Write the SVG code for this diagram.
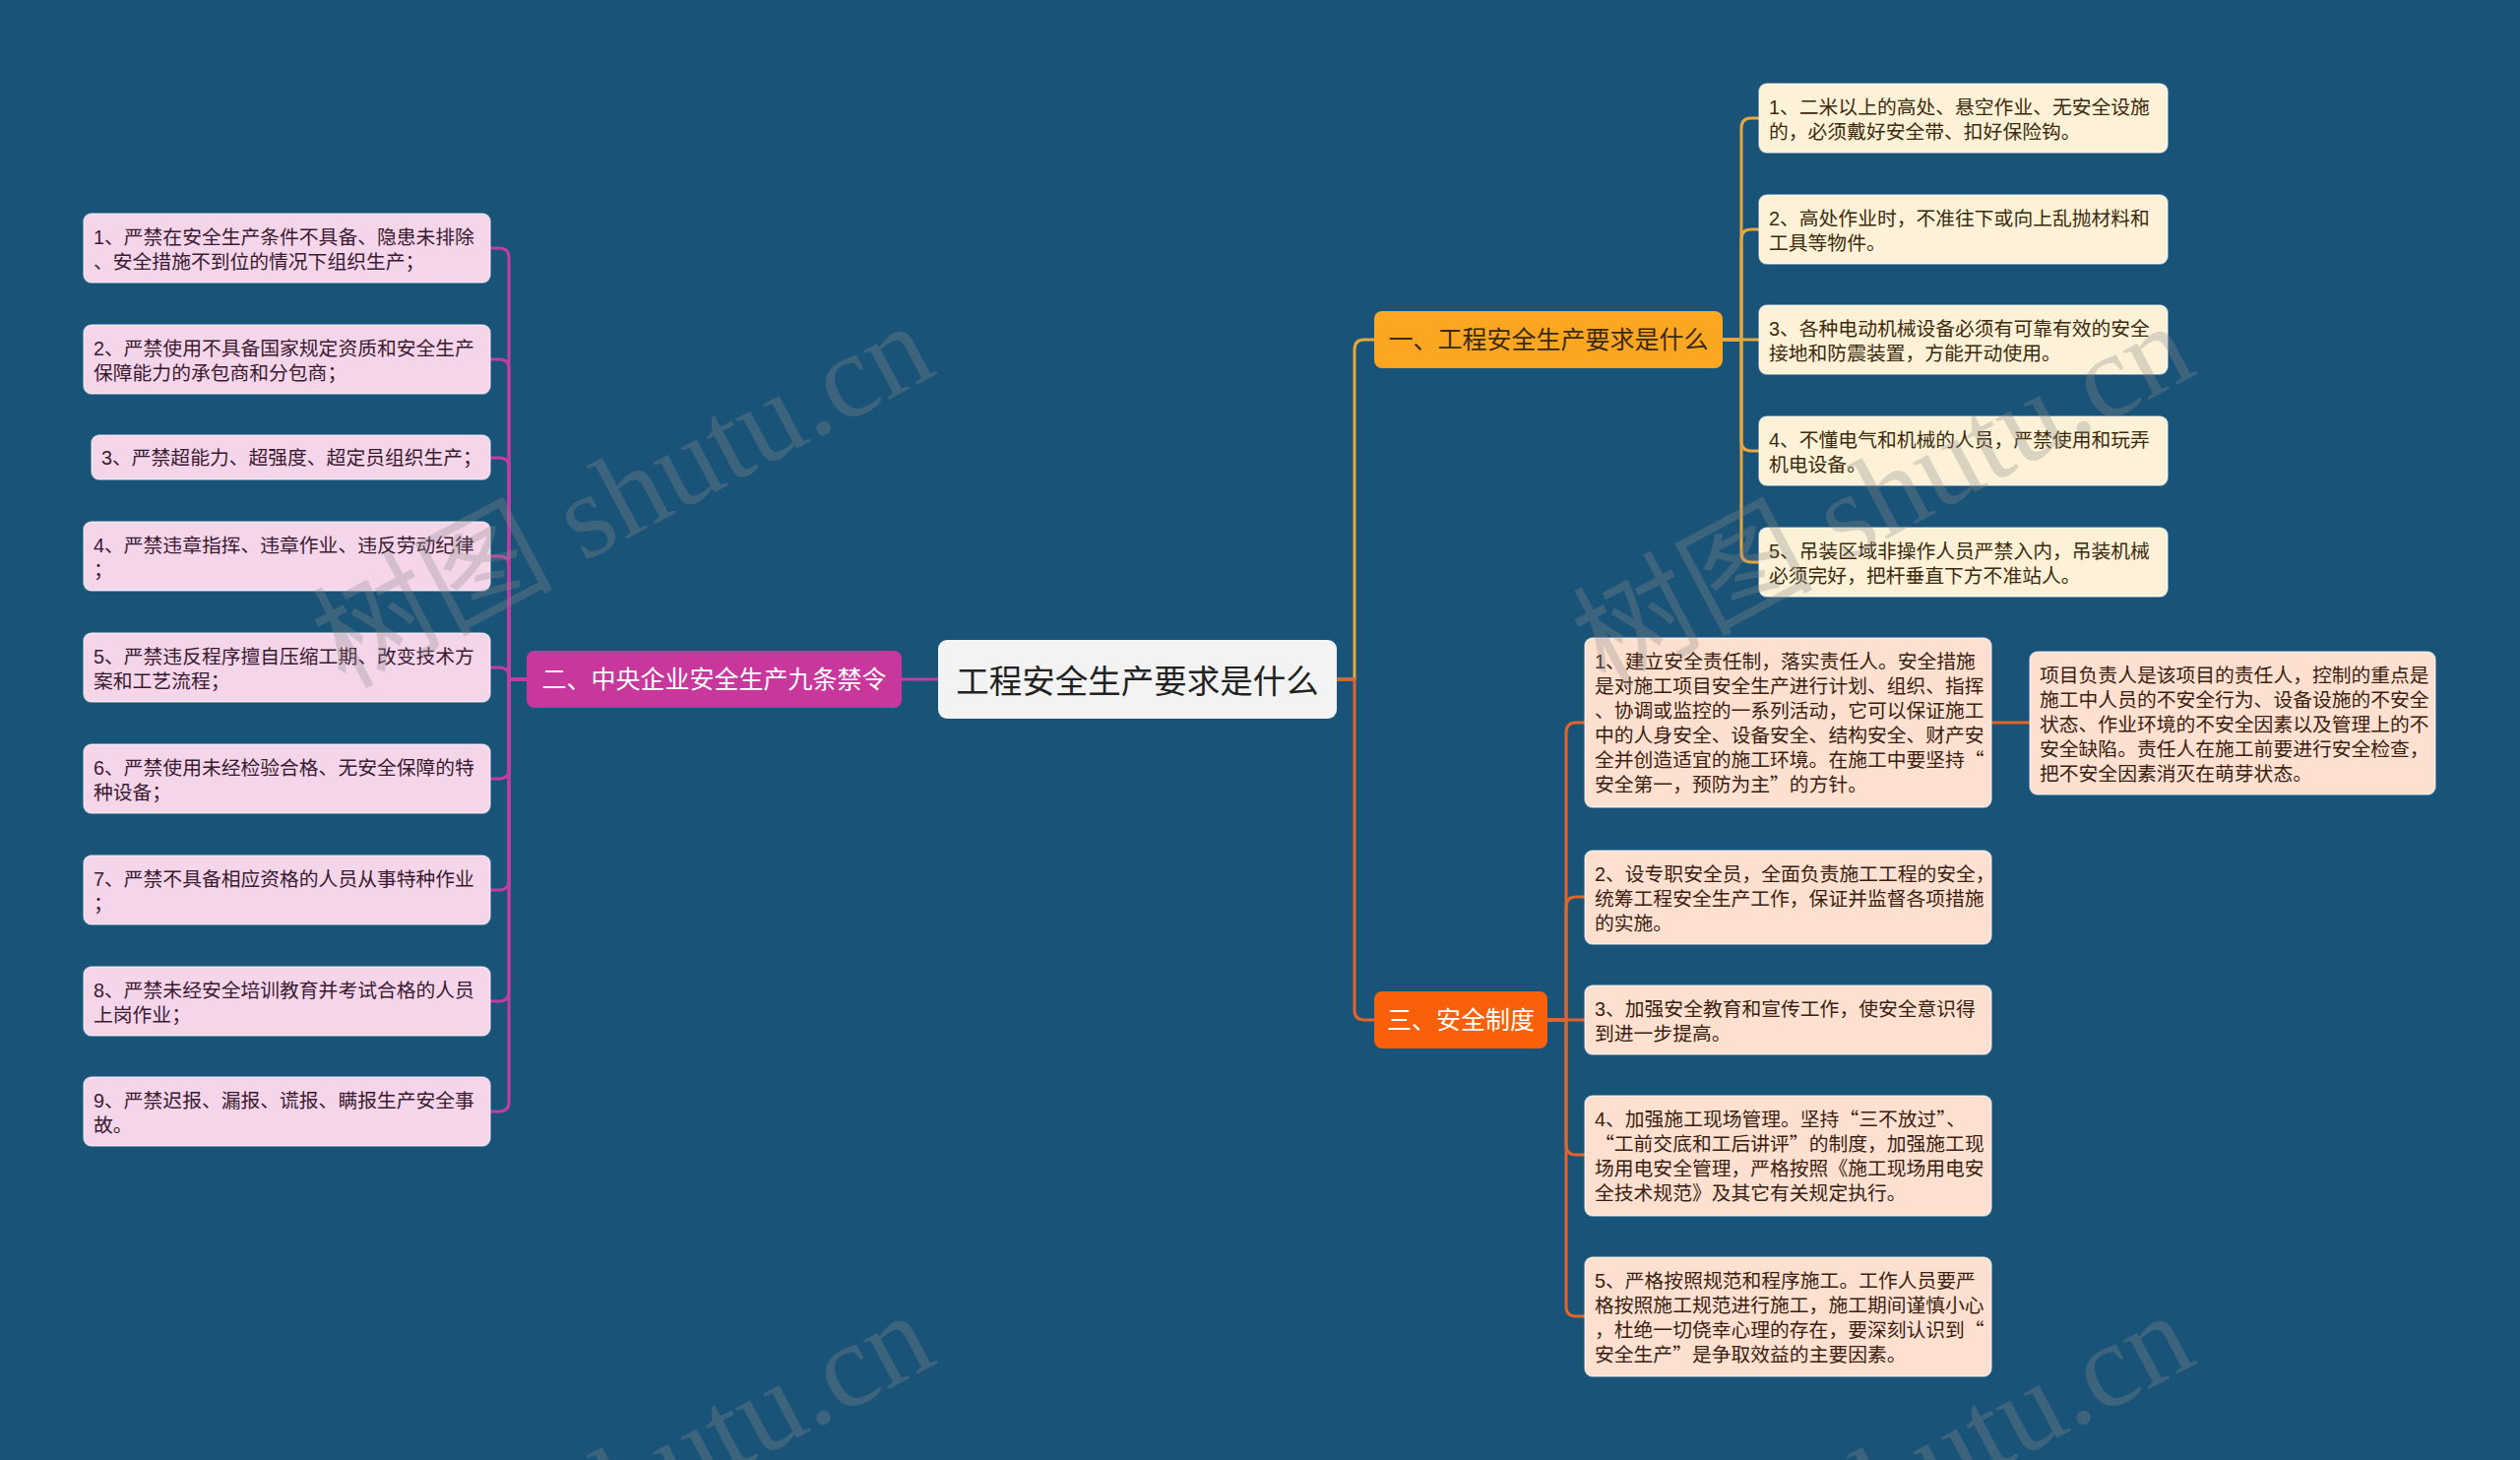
<svg xmlns="http://www.w3.org/2000/svg" width="2560" height="1483" viewBox="0 0 2560 1483">
<style>
text{font-family:"Liberation Sans","Noto Sans CJK SC",sans-serif;}
.q{font-family:"Noto Sans CJK SC",sans-serif;}
.lf{font-size:19.8px;}
.pk rect{fill:#f5d5ea;stroke:#ffffff;stroke-opacity:.55;stroke-width:1.5;}
.pk text{fill:#3a1a30;}
.yl rect{fill:#fdf1d7;stroke:#ffffff;stroke-opacity:.55;stroke-width:1.5;}
.yl text{fill:#3c2a0c;}
.sl rect{fill:#fde0d0;stroke:#ffffff;stroke-opacity:.55;stroke-width:1.5;}
.sl text{fill:#3b1e10;}
.br{font-size:25px;}
.cn path{fill:none;stroke-width:3;}
.cp{stroke:#c23ca2;}
.cy{stroke:#e8a73a;}
.co{stroke:#e2642a;}
.wm{font-family:"Liberation Serif","Noto Sans CJK SC",serif;font-size:122px;fill:#8a8a8a;fill-opacity:.3;}
</style>
<rect x="0" y="0" width="2560" height="1483" fill="#1a5378"/>
<g id="connectors" class="cn">
<path class="cp" d="M953,690 H916"/>
<path class="cy" d="M1358,690 H1376 V355 Q1376,345 1386,345 H1396"/>
<path class="co" d="M1358,690 H1376 V1026 Q1376,1036 1386,1036 H1396"/>
<path class="cp" d="M535,690 H517 V262 Q517,252 507,252 H498"/>
<path class="cp" d="M535,690 H517 V375 Q517,365 507,365 H498"/>
<path class="cp" d="M535,690 H517 V475 Q517,465 507,465 H498"/>
<path class="cp" d="M535,690 H517 V575 Q517,565 507,565 H498"/>
<path class="cp" d="M535,690 H517 V688 Q517,678 507,678 H498"/>
<path class="cp" d="M535,690 H517 V781 Q517,791 507,791 H498"/>
<path class="cp" d="M535,690 H517 V894 Q517,904 507,904 H498"/>
<path class="cp" d="M535,690 H517 V1007 Q517,1017 507,1017 H498"/>
<path class="cp" d="M535,690 H517 V1119 Q517,1129 507,1129 H498"/>
<path class="cy" d="M1750,345 H1769 V130 Q1769,120 1779,120 H1787"/>
<path class="cy" d="M1750,345 H1769 V243 Q1769,233 1779,233 H1787"/>
<path class="cy" d="M1750,345 H1787"/>
<path class="cy" d="M1750,345 H1769 V448 Q1769,458 1779,458 H1787"/>
<path class="cy" d="M1750,345 H1769 V561 Q1769,571 1779,571 H1787"/>
<path class="co" d="M1572,1036 H1591 V744 Q1591,734 1601,734 H1610"/>
<path class="co" d="M1572,1036 H1591 V921 Q1591,911 1601,911 H1610"/>
<path class="co" d="M1572,1036 H1610"/>
<path class="co" d="M1572,1036 H1591 V1163 Q1591,1173 1601,1173 H1610"/>
<path class="co" d="M1572,1036 H1591 V1327 Q1591,1337 1601,1337 H1610"/>
<path class="co" d="M2023,734 H2062"/>
</g>
<g id="root">
<rect x="953" y="650" width="405" height="80" rx="9" fill="#f3f3f3"/>
<text x="1155.5" y="704" text-anchor="middle" font-size="33.5" fill="#222222">工程安全生产要求是什么</text>
</g>
<g id="branch-2">
<rect x="535" y="661" width="381" height="58" rx="8" fill="#c8379b"/>
<text x="725.5" y="699" text-anchor="middle" class="br" fill="#ffffff">二、中央企业安全生产九条禁令</text>
</g>
<g id="branch-1">
<rect x="1396" y="316" width="354" height="58" rx="8" fill="#fca621"/>
<text x="1573" y="354" text-anchor="middle" class="br" fill="#3a2a0e">一、工程安全生产要求是什么</text>
</g>
<g id="branch-3">
<rect x="1396" y="1007" width="176" height="58" rx="8" fill="#fa5f0a"/>
<text x="1484" y="1045" text-anchor="middle" class="br" fill="#ffffff">三、安全制度</text>
</g>
<g id="p1" class="pk"><rect x="85" y="217" width="413" height="70" rx="8"/><text class="lf"><tspan x="95" y="248">1、严禁在安全生产条件不具备、隐患未排除</tspan><tspan x="95" y="273">、安全措施不到位的情况下组织生产；</tspan></text></g>
<g id="p2" class="pk"><rect x="85" y="330" width="413" height="70" rx="8"/><text class="lf"><tspan x="95" y="361">2、严禁使用不具备国家规定资质和安全生产</tspan><tspan x="95" y="386">保障能力的承包商和分包商；</tspan></text></g>
<g id="p3" class="pk"><rect x="93" y="442" width="405" height="45" rx="8"/><text class="lf"><tspan x="103" y="472">3、严禁超能力、超强度、超定员组织生产；</tspan></text></g>
<g id="p4" class="pk"><rect x="85" y="530" width="413" height="70" rx="8"/><text class="lf"><tspan x="95" y="561">4、严禁违章指挥、违章作业、违反劳动纪律</tspan><tspan x="95" y="586">；</tspan></text></g>
<g id="p5" class="pk"><rect x="85" y="643" width="413" height="70" rx="8"/><text class="lf"><tspan x="95" y="674">5、严禁违反程序擅自压缩工期、改变技术方</tspan><tspan x="95" y="699">案和工艺流程；</tspan></text></g>
<g id="p6" class="pk"><rect x="85" y="756" width="413" height="70" rx="8"/><text class="lf"><tspan x="95" y="787">6、严禁使用未经检验合格、无安全保障的特</tspan><tspan x="95" y="812">种设备；</tspan></text></g>
<g id="p7" class="pk"><rect x="85" y="869" width="413" height="70" rx="8"/><text class="lf"><tspan x="95" y="900">7、严禁不具备相应资格的人员从事特种作业</tspan><tspan x="95" y="925">；</tspan></text></g>
<g id="p8" class="pk"><rect x="85" y="982" width="413" height="70" rx="8"/><text class="lf"><tspan x="95" y="1013">8、严禁未经安全培训教育并考试合格的人员</tspan><tspan x="95" y="1038">上岗作业；</tspan></text></g>
<g id="p9" class="pk"><rect x="85" y="1094" width="413" height="70" rx="8"/><text class="lf"><tspan x="95" y="1125">9、严禁迟报、漏报、谎报、瞒报生产安全事</tspan><tspan x="95" y="1150">故。</tspan></text></g>
<g id="y1" class="yl"><rect x="1787" y="85" width="415" height="70" rx="8"/><text class="lf"><tspan x="1797" y="116">1、二米以上的高处、悬空作业、无安全设施</tspan><tspan x="1797" y="141">的，必须戴好安全带、扣好保险钩。</tspan></text></g>
<g id="y2" class="yl"><rect x="1787" y="198" width="415" height="70" rx="8"/><text class="lf"><tspan x="1797" y="229">2、高处作业时，不准往下或向上乱抛材料和</tspan><tspan x="1797" y="254">工具等物件。</tspan></text></g>
<g id="y3" class="yl"><rect x="1787" y="310" width="415" height="70" rx="8"/><text class="lf"><tspan x="1797" y="341">3、各种电动机械设备必须有可靠有效的安全</tspan><tspan x="1797" y="366">接地和防震装置，方能开动使用。</tspan></text></g>
<g id="y4" class="yl"><rect x="1787" y="423" width="415" height="70" rx="8"/><text class="lf"><tspan x="1797" y="454">4、不懂电气和机械的人员，严禁使用和玩弄</tspan><tspan x="1797" y="479">机电设备。</tspan></text></g>
<g id="y5" class="yl"><rect x="1787" y="536" width="415" height="70" rx="8"/><text class="lf"><tspan x="1797" y="567">5、吊装区域非操作人员严禁入内，吊装机械</tspan><tspan x="1797" y="592">必须完好，把杆垂直下方不准站人。</tspan></text></g>
<g id="s1" class="sl"><rect x="1610" y="648" width="413" height="172" rx="8"/><text class="lf"><tspan x="1620" y="679">1、建立安全责任制，落实责任人。安全措施</tspan><tspan x="1620" y="704">是对施工项目安全生产进行计划、组织、指挥</tspan><tspan x="1620" y="729">、协调或监控的一系列活动，它可以保证施工</tspan><tspan x="1620" y="754">中的人身安全、设备安全、结构安全、财产安</tspan><tspan x="1620" y="779">全并创造适宜的施工环境。在施工中要坚持<tspan class="q">“</tspan></tspan><tspan x="1620" y="804">安全第一，预防为主<tspan class="q">”</tspan>的方针。</tspan></text></g>
<g id="s1a" class="sl"><rect x="2062" y="662" width="412" height="145" rx="8"/><text class="lf"><tspan x="2072" y="693">项目负责人是该项目的责任人，控制的重点是</tspan><tspan x="2072" y="718">施工中人员的不安全行为、设备设施的不安全</tspan><tspan x="2072" y="743">状态、作业环境的不安全因素以及管理上的不</tspan><tspan x="2072" y="768">安全缺陷。责任人在施工前要进行安全检查，</tspan><tspan x="2072" y="793">把不安全因素消灭在萌芽状态。</tspan></text></g>
<g id="s2" class="sl"><rect x="1610" y="864" width="413" height="95" rx="8"/><text class="lf"><tspan x="1620" y="895">2、设专职安全员，全面负责施工工程的安全，</tspan><tspan x="1620" y="920">统筹工程安全生产工作，保证并监督各项措施</tspan><tspan x="1620" y="945">的实施。</tspan></text></g>
<g id="s3" class="sl"><rect x="1610" y="1001" width="413" height="70" rx="8"/><text class="lf"><tspan x="1620" y="1032">3、加强安全教育和宣传工作，使安全意识得</tspan><tspan x="1620" y="1057">到进一步提高。</tspan></text></g>
<g id="s4" class="sl"><rect x="1610" y="1113" width="413" height="122" rx="8"/><text class="lf"><tspan x="1620" y="1144">4、加强施工现场管理。坚持<tspan class="q">“</tspan>三不放过<tspan class="q">”</tspan>、</tspan><tspan x="1620" y="1169"><tspan class="q">“</tspan>工前交底和工后讲评<tspan class="q">”</tspan>的制度，加强施工现</tspan><tspan x="1620" y="1194">场用电安全管理，严格按照《施工现场用电安</tspan><tspan x="1620" y="1219">全技术规范》及其它有关规定执行。</tspan></text></g>
<g id="s5" class="sl"><rect x="1610" y="1277" width="413" height="121" rx="8"/><text class="lf"><tspan x="1620" y="1308">5、严格按照规范和程序施工。工作人员要严</tspan><tspan x="1620" y="1333">格按照施工规范进行施工，施工期间谨慎小心</tspan><tspan x="1620" y="1358">，杜绝一切侥幸心理的存在，要深刻认识到<tspan class="q">“</tspan></tspan><tspan x="1620" y="1383">安全生产<tspan class="q">”</tspan>是争取效益的主要因素。</tspan></text></g>
<g id="watermark">
<text class="wm" transform="translate(350,700) rotate(-28)">树图 shutu.cn</text>
<text class="wm" transform="translate(1630,700) rotate(-28)">树图 shutu.cn</text>
<text class="wm" transform="translate(350,1705) rotate(-28)">树图 shutu.cn</text>
<text class="wm" transform="translate(1630,1705) rotate(-28)">树图 shutu.cn</text>
</g>
</svg>
